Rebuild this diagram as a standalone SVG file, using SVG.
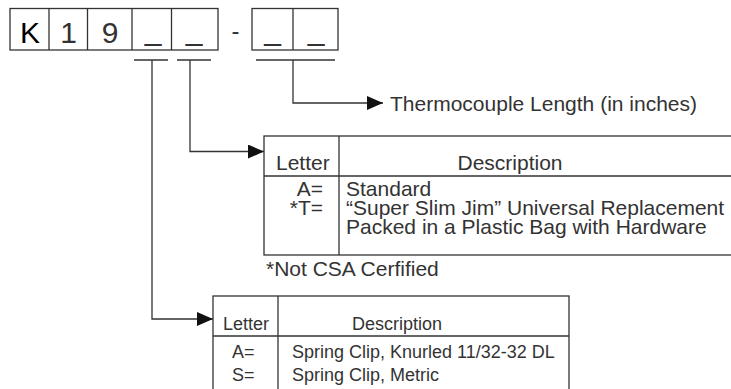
<svg xmlns="http://www.w3.org/2000/svg" width="731" height="389" viewBox="0 0 731 389">
<defs>
<style>
.ln{fill:none;stroke:#333;stroke-width:1.3}
.bx{fill:#fff;stroke:#333;stroke-width:1.3}
.t{font-family:"Liberation Sans",Arial,sans-serif;fill:#333}
.code{font-size:30px;text-anchor:middle}
.t21{font-size:21px}
.t18{font-size:18px}
.end{text-anchor:end}
.mid{text-anchor:middle}
</style>
<marker id="ah" viewBox="0 0 16 14" refX="16" refY="7" markerWidth="16" markerHeight="14" markerUnits="userSpaceOnUse" orient="auto">
<path d="M0,0 L16,7 L0,14 Z" fill="#111"/>
</marker>
</defs>
<rect width="731" height="389" fill="#fff"/>
<g id="code">
<rect class="bx" x="10" y="8.5" width="208" height="41.5"/>
<line class="ln" x1="49" y1="8.5" x2="49" y2="50"/>
<line class="ln" x1="87.5" y1="8.5" x2="87.5" y2="50"/>
<line class="ln" x1="132" y1="8.5" x2="132" y2="50"/>
<line class="ln" x1="171.5" y1="8.5" x2="171.5" y2="50"/>
<rect class="bx" x="252" y="8.5" width="86" height="41.5"/>
<line class="ln" x1="293" y1="8.5" x2="293" y2="50"/>
<text class="t code" x="30" y="43" style="fill:#000">K</text>
<text class="t code" x="68.5" y="43">1</text>
<text class="t code" x="110" y="43">9</text>
<text class="t code" x="153" y="40">_</text>
<text class="t code" x="194" y="40">_</text>
<text class="t" x="235.5" y="39" font-size="24" text-anchor="middle">-</text>
<text class="t code" x="272.5" y="40">_</text>
<text class="t code" x="316" y="40">_</text>
</g>
<g id="connectors">
<line class="ln" x1="134" y1="60" x2="168" y2="60"/>
<line class="ln" x1="177" y1="60" x2="211" y2="60"/>
<line class="ln" x1="256" y1="60" x2="335" y2="60"/>
<path class="ln" d="M293,60 V103 H383" marker-end="url(#ah)"/>
<path class="ln" d="M190,60 V151.5 H264" marker-end="url(#ah)"/>
<path class="ln" d="M152,60 V319 H213" marker-end="url(#ah)"/>
</g>
<g id="length-label">
<text class="t t21" x="390" y="111">Thermocouple Length (in inches)</text>
</g>
<g id="table-style">
<rect class="bx" x="264" y="136" width="500" height="119"/>
<line class="ln" x1="264" y1="176" x2="764" y2="176"/>
<line class="ln" x1="339" y1="136" x2="339" y2="255"/>
<text class="t t21" x="276" y="170">Letter</text>
<text class="t t21 mid" x="510" y="170">Description</text>
<text class="t t21 end" x="323" y="196">A=</text>
<text class="t t21 end" x="323" y="215">*T=</text>
<text class="t t21" x="346" y="196">Standard</text>
<text class="t t21" x="346" y="215">“Super Slim Jim” Universal Replacement</text>
<text class="t t21" x="346" y="234">Packed in a Plastic Bag with Hardware</text>
<text class="t t21" x="266" y="276">*Not CSA Cerfified</text>
</g>
<g id="table-clip">
<rect class="bx" x="213" y="296" width="356" height="200"/>
<line class="ln" x1="213" y1="336" x2="569" y2="336"/>
<line class="ln" x1="278" y1="296" x2="278" y2="496"/>
<text class="t t18" x="223" y="330">Letter</text>
<text class="t t18" x="352" y="330">Description</text>
<text class="t t18" x="232" y="358">A=</text>
<text class="t t18" x="232" y="381">S=</text>
<text class="t t18" x="292" y="358">Spring Clip, Knurled 11/32-32 DL</text>
<text class="t t18" x="292" y="381">Spring Clip, Metric</text>
</g>
</svg>
